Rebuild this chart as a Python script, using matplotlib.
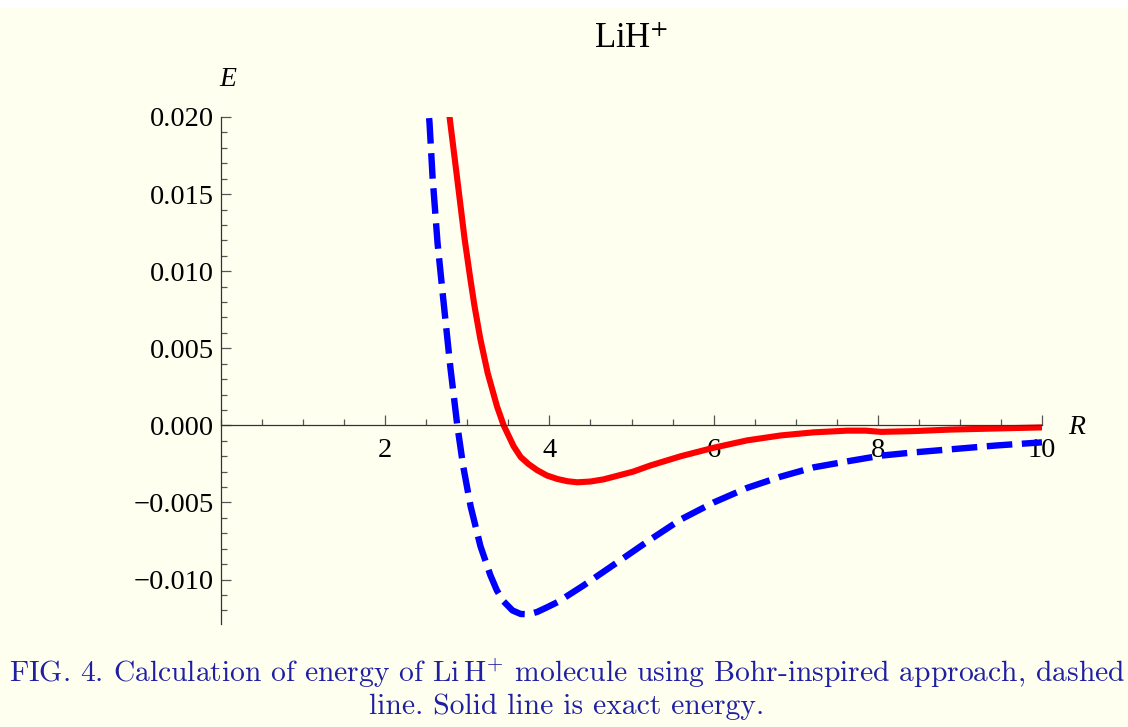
import numpy as np
import matplotlib.pyplot as plt
from matplotlib.ticker import MultipleLocator, FuncFormatter, FixedLocator
from matplotlib.patches import Rectangle

# Bohr-inspired approach (dashed)
r_bohr = [2.50, 2.54, 2.577, 2.638, 2.707, 2.793, 2.878, 2.95, 3.04, 3.16, 3.28,
          3.36, 3.44, 3.55, 3.65, 3.75, 3.85, 3.97, 4.10, 4.41, 4.83, 5.23, 5.60,
          6.00, 6.41, 6.82, 7.22, 7.63, 8.04, 8.44, 8.89, 9.45, 10.0]
e_bohr = [0.0222, 0.0196, 0.0161, 0.0118, 0.0082, 0.0038, 0.0, -0.00265,
          -0.00524, -0.00783, -0.00970, -0.01070, -0.01140, -0.01200, -0.01223,
          -0.01225, -0.0121, -0.0118, -0.01146, -0.0104, -0.00887, -0.00740,
          -0.00610, -0.00500, -0.00405, -0.00332, -0.00272, -0.00233, -0.00196,
          -0.00175, -0.00155, -0.0013, -0.0011]

# exact energy (solid)
r_exact = [2.76, 2.784, 2.874, 2.967, 3.037, 3.089, 3.159, 3.248, 3.362, 3.443,
           3.565, 3.65, 3.744, 3.85, 3.97, 4.10, 4.22, 4.34, 4.50, 4.66, 5.02,
           5.23, 5.60, 6.00, 6.41, 6.82, 7.22, 7.63, 7.85, 8.04, 8.44, 8.89,
           9.45, 10.0]
e_exact = [0.0210, 0.0200, 0.01613, 0.0121, 0.0095, 0.0077, 0.0056, 0.0034,
           0.00123, 0.0, -0.00136, -0.00205, -0.0025, -0.0029, -0.00325,
           -0.00348, -0.00362, -0.00369, -0.00364, -0.0035, -0.0030, -0.0026,
           -0.0020, -0.00145, -0.00097, -0.00065, -0.00045, -0.00034, -0.00034,
           -0.00042, -0.00037, -0.00027, -0.0002, -0.00013]

x_major = [2, 4, 6, 8, 10]
y_major = [-0.010, -0.005, 0.000, 0.005, 0.010, 0.015, 0.020]

bg = '#fffff0'
fig = plt.figure(figsize=(11.28, 7.27), dpi=100, facecolor=bg)
fig.patches.append(Rectangle((0, 1 - 8 / 727), 1, 8 / 727, transform=fig.transFigure,
                             facecolor='white', edgecolor='none', zorder=-1))
ax = fig.add_axes([221 / 1128, 1 - 624 / 727, (1042 - 221) / 1128, (624 - 117) / 727])
ax.set_facecolor('none')

ax.plot(r_exact, e_exact, color='red', lw=4.4, solid_capstyle='butt', solid_joinstyle='round')
ax.plot(r_bohr, e_bohr, color='blue', lw=4.6, dashes=(4.0, 1.5), dash_capstyle='butt')

ax.set_xlim(0, 10)
ax.set_ylim(-0.01288, 0.020)

for s in ['top', 'right']:
    ax.spines[s].set_visible(False)
ax.spines['bottom'].set_position(('data', 0))
ax.spines['left'].set_position(('data', 0))
for s in ['bottom', 'left']:
    ax.spines[s].set_color('#333333')
    ax.spines[s].set_linewidth(0.9)

ax.xaxis.set_major_locator(FixedLocator(x_major))
ax.xaxis.set_minor_locator(MultipleLocator(0.5))
ax.yaxis.set_major_locator(FixedLocator(y_major))
ax.yaxis.set_minor_locator(MultipleLocator(0.001))
ax.yaxis.set_major_formatter(FuncFormatter(lambda v, p: ('%.3f' % v).replace('-', '\u2212')))

ax.tick_params(which='both', direction='in', color='#555555', width=0.9)
ax.tick_params(which='major', length=7)
ax.tick_params(which='minor', length=4)
ax.tick_params(axis='x', which='major', pad=9)
ax.tick_params(axis='y', which='major', pad=5)
for lab in ax.get_xticklabels() + ax.get_yticklabels():
    lab.set_fontfamily('Liberation Serif')
    lab.set_fontsize(20.5)

fig.text(228 / 1128, 1 - 80 / 727, 'E', fontfamily='Liberation Serif', fontstyle='italic',
         fontsize=20, ha='center', va='center')
fig.text(1077 / 1128, 1 - 427 / 727, 'R', fontfamily='Liberation Serif', fontstyle='italic',
         fontsize=20, ha='center', va='center')
fig.text(631 / 1128, 1 - 40 / 727, 'LiH$^{+}$', fontfamily='Liberation Serif',
         math_fontfamily='stix', fontsize=25, ha='center', va='center')

cap = ('FIG. 4. Calculation of energy of Li$\\,$H$^{+}$ molecule using Bohr-inspired approach, dashed\n'
       'line. Solid line is exact energy.')
fig.text(567 / 1128, 1 - 688 / 727, cap, fontfamily='cmr10', math_fontfamily='cm',
         fontsize=21.3, color='#1f1fa3', ha='center', va='center',
         multialignment='center', linespacing=1.2)

fig.savefig('out.png', dpi=100, facecolor=bg)
